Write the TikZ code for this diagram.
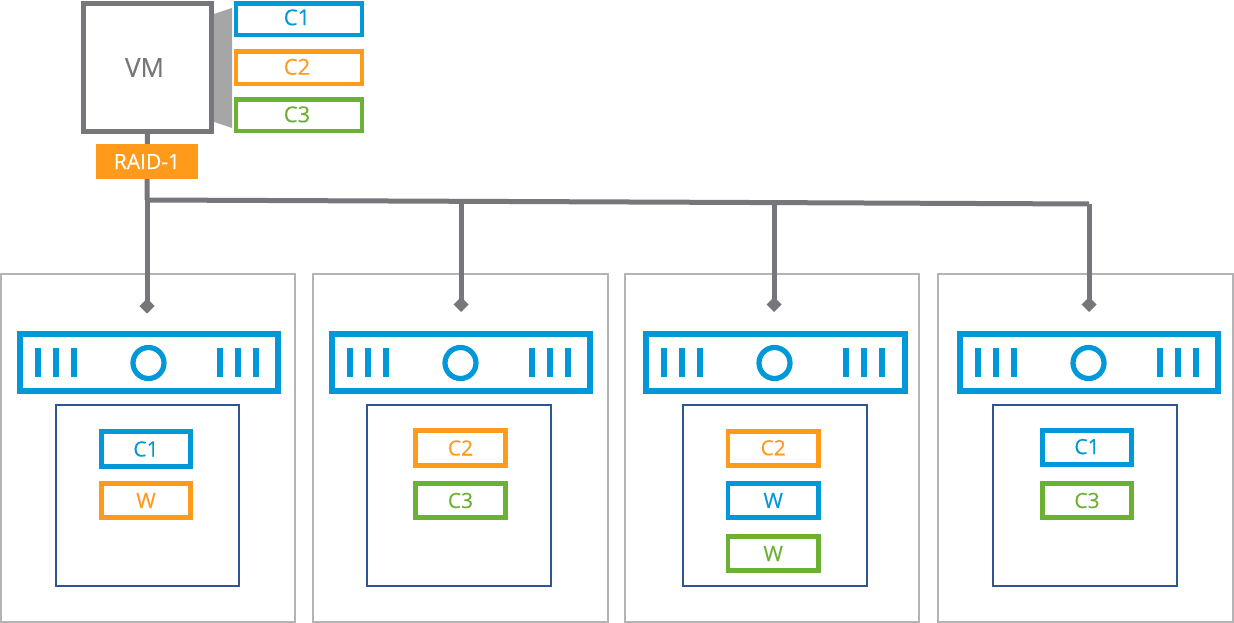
\documentclass[tikz,border=0pt]{standalone}
\usepackage{fontspec}
\setmainfont{Open Sans}[FakeBold=0.25]
\usetikzlibrary{arrows.meta}
\definecolor{cblue}{HTML}{0098D8}
\definecolor{corange}{HTML}{FF9A1B}
\definecolor{cgreen}{HTML}{6CB232}
\definecolor{cgray}{HTML}{77777B}
\definecolor{cfan}{HTML}{A6A6A6}
\definecolor{cframe}{HTML}{B4B4B6}
\definecolor{cnavy}{HTML}{2F5597}
\newcommand{\px}[1]{\fontsize{#1pt}{#1pt}\selectfont}
\tikzset{
  x=1pt,y=-1pt,
  pxbox/.style n args={4}{minimum width=((#3)-(#1))*1pt,minimum height=((#4)-(#2))*1pt,inner sep=0pt,anchor=center,at={({((#1)+(#3))/2},{((#2)+(#4))/2})}},
  frame/.style={draw=cframe,line width=2pt,fill=white},
  innerbox/.style={draw=cnavy,line width=2pt,fill=white},
  barbox/.style={draw=cblue,line width=5.6pt,fill=white},
  vmbox/.style={draw=cgray,line width=5pt,fill=white,text=cgray,font=\px{26}},
  topbox/.style={draw=#1,line width=4.4pt,fill=white,text=#1,font=\px{22}},
  smallbox/.style={draw=#1,line width=4.6pt,fill=white,text=#1,font=\px{21}},
  raid/.style={fill=corange,text=white,font=\px{21}},
  wire/.style={draw=cgray,line width=5pt},
  tipwire/.style={wire,-{Diamond[length=15pt,width=15pt,line width=0pt]}},
  tickmark/.style={draw=cblue,line width=6pt},
  ring/.style={draw=cblue,line width=5.2pt,circle,minimum size=31pt,inner sep=0pt,fill=white},
  fan/.style={fill=cfan}
}
\newcommand{\barright}{260.8}
\newcommand{\server}[6]{%
  \node[frame,pxbox={#2}{274}{#3}{622}] (s#1) {};
  \node[barbox,pxbox={#4+2.8}{333.8}{#4+\barright}{391.2}] (b#1) {};
  \foreach \dx in {21,39,57,203,221,239}{
    \draw[tickmark] ({#4+\dx},348) -- ({#4+\dx},377);
  }
  \node[ring] (r#1) at ({#4+131.5},363) {};
  \node[innerbox,pxbox={#5}{405}{#6}{586}] (i#1) {};
}
\begin{document}
\begin{tikzpicture}
\useasboundingbox[fill=white] (0,0) rectangle (1234,623);
% servers
\server{1}{1}{295}{17}{56}{239}
\server{2}{313}{608}{329}{367}{551}
\renewcommand{\barright}{262}
\server{3}{625}{919}{643}{683}{867}
\renewcommand{\barright}{260.8}
\server{4}{938}{1233}{957}{993}{1177}
% small boxes
\node[smallbox=cblue,pxbox={101.5}{431.5}{190.5}{466.5}] (a1) {C1};
\node[smallbox=corange,pxbox={101.5}{483.5}{190.5}{517.5}] (a2) {W};
\node[smallbox=corange,pxbox={415.5}{430.5}{505.5}{465.5}] (b1x) {C2};
\node[smallbox=cgreen,pxbox={415.5}{483.5}{505.5}{517.5}] (b2x) {C3};
\node[smallbox=corange,pxbox={728}{431.6}{818.4}{465.7}] (c1) {\raisebox{2pt}{C2}};
\node[smallbox=cblue,pxbox={728}{483.3}{818.4}{517.7}] (c2) {W};
\node[smallbox=cgreen,pxbox={728}{536.3}{818.4}{570.7}] (c3) {W};
\node[smallbox=cblue,pxbox={1042.5}{430.5}{1131.5}{464.5}] (d1) {\raisebox{2pt}{C1}};
\node[smallbox=cgreen,pxbox={1042.5}{483.5}{1131.5}{517.5}] (d2) {C3};
% VM and fan
\fill[fan] (214,14) -- (232,8) -- (232,128) -- (214,122) -- cycle;
\node[vmbox,pxbox={83.5}{3.5}{211.5}{131.5}] (vm) {\hspace*{-6pt}VM};
\node[topbox=cblue,pxbox={236}{3.5}{362}{35}] (t1) {\hspace*{-4pt}\raisebox{4pt}{C1}};
\node[topbox=corange,pxbox={236}{51.5}{362}{84}] (t2) {\hspace*{-4pt}\raisebox{2pt}{C2}};
\node[topbox=cgreen,pxbox={236}{99.5}{362}{131}] (t3) {\hspace*{-4pt}\raisebox{2pt}{C3}};
% connectors
\coordinate (j0) at (147,200);
\coordinate (j2) at (461,201.3);
\coordinate (j3) at (774,202.6);
\coordinate (j4) at (1089,204);
\coordinate (e1) at (147,313.5);
\coordinate (e2) at (461,312);
\coordinate (e3) at (774,312);
\coordinate (e4) at (1089,312);
\draw[wire] (vm.south) -- (j0);
\draw[wire] (j0) -- (j2) -- (j3) -- (j4);
\draw[tipwire] (j0) -- (e1);
\draw[tipwire] (j2) -- (e2);
\draw[tipwire] (j3) -- (e3);
\draw[tipwire] (j4) -- (e4);
\node[raid,pxbox={96}{144}{198}{179}] (raid) {RAID-1};
\end{tikzpicture}
\end{document}
